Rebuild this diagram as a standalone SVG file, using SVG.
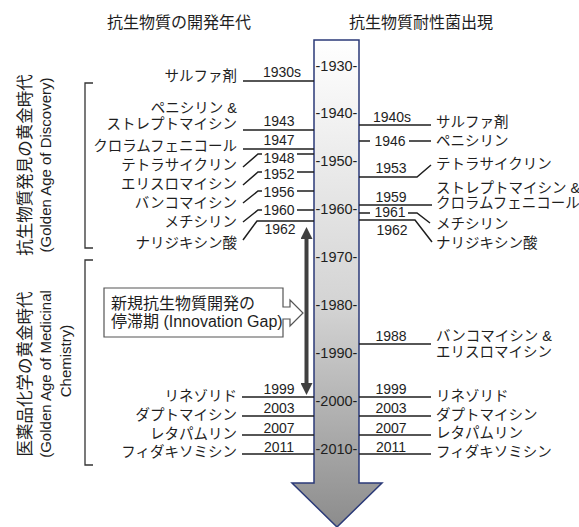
<svg xmlns="http://www.w3.org/2000/svg" width="579" height="527" viewBox="0 0 579 527">
<style>
text{font-family:"Liberation Sans","Noto Sans CJK JP",sans-serif;fill:#1e1e1e}
.hdr{font-size:16px;text-anchor:middle}
.lab{font-size:14.5px}
.L{text-anchor:end}
.yr{font-size:14px;text-anchor:middle}
.tk{font-size:14.5px;text-anchor:middle}
.vt{font-size:16.5px;text-anchor:middle;dominant-baseline:central}
.ve{font-size:15px;text-anchor:middle;dominant-baseline:central}
.cl{font-size:16px}
.ln{stroke:#1e1e1e;stroke-width:1.5;fill:none}
.br{stroke:#333;stroke-width:1.3;fill:none}
</style>
<defs>
<linearGradient id="sg" gradientUnits="userSpaceOnUse" x1="0" y1="40" x2="0" y2="527">
<stop offset="0" stop-color="#ffffff"/>
<stop offset="0.55" stop-color="#d3d3d3"/>
<stop offset="1" stop-color="#8c8c8c"/>
</linearGradient>
<marker id="ah" viewBox="0 0 12 12" refX="0" refY="6" markerWidth="12" markerHeight="12" markerUnits="userSpaceOnUse" orient="auto-start-reverse">
<path d="M0,0 L12,6 L0,12 Z" fill="#404040"/>
</marker>
</defs>

<g id="headers">
<text class="hdr" x="179" y="28">抗生物質の開発年代</text>
<text class="hdr" x="421" y="28">抗生物質耐性菌出現</text>
</g>

<g id="timeline-arrow">
<path d="M314,40 H359 V483 H382 L337,527 L292,483 H314 Z" fill="url(#sg)" stroke="#2b3a78" stroke-width="1.5" stroke-linejoin="miter"/>
<text class="tk" x="336.5" y="71">-1930-</text>
<text class="tk" x="336.5" y="118">-1940-</text>
<text class="tk" x="336.5" y="166">-1950-</text>
<text class="tk" x="336.5" y="214">-1960-</text>
<text class="tk" x="336.5" y="262">-1970-</text>
<text class="tk" x="336.5" y="310">-1980-</text>
<text class="tk" x="336.5" y="358">-1990-</text>
<text class="tk" x="336.5" y="406">-2000-</text>
<text class="tk" x="336.5" y="454">-2010-</text>
</g>

<g id="era-discovery">
<path class="br" d="M93,83 H85 V248 H93"/>
<text class="vt" transform="translate(25,165) rotate(-90)">抗生物質発見の黄金時代</text>
<text class="ve" transform="translate(45,165) rotate(-90)">(Golden Age of Discovery)</text>
</g>

<g id="era-medicinal">
<path class="br" d="M93,260 H85 V465 H93"/>
<text class="vt" transform="translate(25,374) rotate(-90)">医薬品化学の黄金時代</text>
<text class="ve" transform="translate(45,374) rotate(-90)">(Golden Age of Medicinal</text>
<text class="ve" transform="translate(65,361) rotate(-90)">Chemistry)</text>
</g>

<g id="innovation-gap">
<path d="M104,288 H283 V307 H290 V300 L303,313 L290,326 V319 H283 V337 H104 Z" fill="#ffffff" stroke="#555" stroke-width="1.2"/>
<text class="cl" x="111" y="309">新規抗生物質開発の</text>
<text class="cl" x="111" y="327">停滞期 (Innovation Gap)</text>
</g>

<g id="connectors">
<path class="ln" d="M243,81 H314"/>
<path class="ln" d="M243,130 H314"/>
<path class="ln" d="M243,149 H314"/>
<path class="ln" d="M243,167 L258,154 H262 M297,154 H314"/>
<path class="ln" d="M243,185 L258,172 H262 M297,172 H314"/>
<path class="ln" d="M243,203 L258,191 H262 M297,191 H314"/>
<path class="ln" d="M243,222 L258,210 H262 M297,210 H314"/>
<path class="ln" d="M243,240 L257,221 H314"/>
<path class="ln" d="M242,397 H314"/>
<path class="ln" d="M242,416 H314"/>
<path class="ln" d="M242,435 H314"/>
<path class="ln" d="M242,454 H314"/>
<path class="ln" d="M359,125 H431"/>
<path class="ln" d="M359,141 H370 M409,141 H431"/>
<path class="ln" d="M359,177 H417 L431,165"/>
<path class="ln" d="M359,205 H432"/>
<path class="ln" d="M359,213 H370 M408,213 H417 L430,223"/>
<path class="ln" d="M359,220 H415 L432,242"/>
<path class="ln" d="M359,344 H431"/>
<path class="ln" d="M359,397 H431"/>
<path class="ln" d="M359,416 H431"/>
<path class="ln" d="M359,435 H431"/>
<path class="ln" d="M359,454 H431"/>
<path d="M306.5,239 V383" stroke="#404040" stroke-width="4" fill="none" marker-start="url(#ah)" marker-end="url(#ah)"/>
</g>

<g id="dev-1930s"><text class="yr" x="282" y="77">1930s</text><text class="lab L" x="237" y="81">サルファ剤</text></g>
<g id="dev-1943"><text class="yr" x="279" y="126">1943</text><text class="lab L" x="237" y="113">ペニシリン &amp;</text><text class="lab L" x="237" y="129">ストレプトマイシン</text></g>
<g id="dev-1947"><text class="yr" x="279" y="145">1947</text><text class="lab L" x="237" y="151">クロラムフェニコール</text></g>
<g id="dev-1948"><text class="yr" x="279" y="163">1948</text><text class="lab L" x="237" y="170">テトラサイクリン</text></g>
<g id="dev-1952"><text class="yr" x="279" y="179">1952</text><text class="lab L" x="237" y="189">エリスロマイシン</text></g>
<g id="dev-1956"><text class="yr" x="279" y="197">1956</text><text class="lab L" x="237" y="208">バンコマイシン</text></g>
<g id="dev-1960"><text class="yr" x="279" y="215">1960</text><text class="lab L" x="237" y="227">メチシリン</text></g>
<g id="dev-1962"><text class="yr" x="280" y="234">1962</text><text class="lab L" x="237" y="248">ナリジキシン酸</text></g>
<g id="dev-1999"><text class="yr" x="279" y="394">1999</text><text class="lab L" x="237" y="401">リネゾリド</text></g>
<g id="dev-2003"><text class="yr" x="279" y="413">2003</text><text class="lab L" x="237" y="420">ダプトマイシン</text></g>
<g id="dev-2007"><text class="yr" x="279" y="433">2007</text><text class="lab L" x="237" y="439">レタパムリン</text></g>
<g id="dev-2011"><text class="yr" x="279" y="452">2011</text><text class="lab L" x="237" y="457">フィダキソミシン</text></g>

<g id="res-1940s"><text class="yr" x="392" y="122">1940s</text><text class="lab" x="436" y="127">サルファ剤</text></g>
<g id="res-1946"><text class="yr" x="390" y="146">1946</text><text class="lab" x="436" y="146">ペニシリン</text></g>
<g id="res-1953"><text class="yr" x="391" y="173">1953</text><text class="lab" x="436" y="169">テトラサイクリン</text></g>
<g id="res-1959"><text class="yr" x="391" y="202">1959</text><text class="lab" x="436" y="193">ストレプトマイシン &amp;</text><text class="lab" x="436" y="208">クロラムフェニコール</text></g>
<g id="res-1961"><text class="yr" x="390" y="217">1961</text><text class="lab" x="436" y="229">メチシリン</text></g>
<g id="res-1962"><text class="yr" x="392" y="235">1962</text><text class="lab" x="436" y="248">ナリジキシン酸</text></g>
<g id="res-1988"><text class="yr" x="391" y="341">1988</text><text class="lab" x="436" y="341">バンコマイシン &amp;</text><text class="lab" x="436" y="357">エリスロマイシン</text></g>
<g id="res-1999"><text class="yr" x="391" y="394">1999</text><text class="lab" x="436" y="401">リネゾリド</text></g>
<g id="res-2003"><text class="yr" x="391" y="413">2003</text><text class="lab" x="436" y="420">ダプトマイシン</text></g>
<g id="res-2007"><text class="yr" x="391" y="433">2007</text><text class="lab" x="436" y="438">レタパムリン</text></g>
<g id="res-2011"><text class="yr" x="391" y="452">2011</text><text class="lab" x="436" y="457">フィダキソミシン</text></g>
</svg>
